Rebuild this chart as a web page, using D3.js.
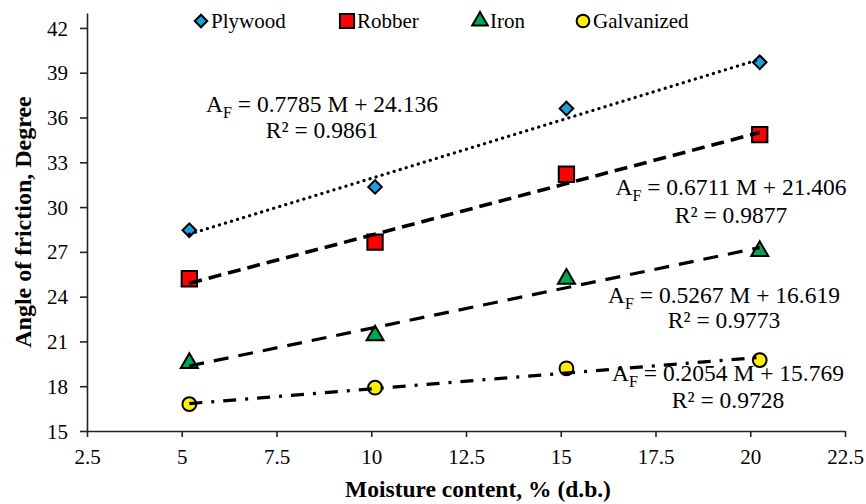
<!DOCTYPE html>
<html>
<head>
<meta charset="utf-8">
<script src="https://cdn.jsdelivr.net/npm/d3@7"></script>
<style>
  html, body { margin: 0; padding: 0; background: #fff; }
  svg { display: block; }
  text { font-family: "Liberation Serif", "Times New Roman", "DejaVu Serif", serif; fill: #000; }
</style>
</head>
<body>
<svg id="chart" width="866" height="504"></svg>
<script>
// Moisture content (% d.b.) at which friction angles were measured
const moisture = [5.2, 10.1, 15.15, 20.25];

// Angle of friction (degree) on each surface
const plywood    = [28.45, 31.35, 36.6, 39.7];
const robber     = [25.2, 27.65, 32.2, 34.85];
const iron       = [19.55, 21.4, 25.2, 27.05];
const galvanized = [16.8, 17.9, 19.2, 19.75];

// Linear fits A_F = slope * M + intercept
const slopes     = [0.7785, 0.6711, 0.5267, 0.2054];
const intercepts = [24.136, 21.406, 16.619, 15.769];
const r2         = ["0.9861", "0.9877", "0.9773", "0.9728"];

const seriesNames = ["Plywood", "Robber", "Iron", "Galvanized"];

// Axis ticks
const xTicks = [2.5, 5, 7.5, 10, 12.5, 15, 17.5, 20, 22.5];
const yTicks = [15, 18, 21, 24, 27, 30, 33, 36, 39, 42];

const FONT = "'Liberation Serif', 'Times New Roman', 'DejaVu Serif', serif";
const svg = d3.select("#chart").attr("font-family", FONT);

const x = d3.scaleLinear().domain([2.5, 22.5]).range([87, 845]);
const y = d3.scaleLinear().domain([15, 43]).range([431, 13]);

// Diamond drawn as a square turned 45 degrees
const styles = [
  { fill: "#1ba1e2", symbol: d3.symbolSquare,   size: 92,  rot: 45, dash: "0.1 6.2",  width: 3.2, cap: "round" },
  { fill: "#ff0000", symbol: d3.symbolSquare,   size: 235, rot: 0,  dash: "13 7",     width: 3.6, cap: "butt" },
  { fill: "#00a651", symbol: d3.symbolTriangle, size: 125, rot: 0,  dash: "15 10",    width: 3.2, cap: "butt" },
  { fill: "#ffef00", symbol: d3.symbolCircle,   size: 150, rot: 0,  dash: "13 9 3 9", width: 3.2, cap: "butt" }
];

const values = [plywood, robber, iron, galvanized];

// Axes
const xAxis = d3.axisBottom(x).tickValues(xTicks).tickSize(6).tickSizeOuter(0)
  .tickFormat(d => String(d));
const yAxis = d3.axisLeft(y).tickValues(yTicks).tickSize(7).tickSizeOuter(0)
  .tickFormat(d => String(d));

const gx = svg.append("g").attr("transform", `translate(0,${y(15)})`).call(xAxis);
const gy = svg.append("g").attr("transform", `translate(${x(2.5)},0)`).call(yAxis);

[gx, gy].forEach(g => {
  g.attr("font-family", FONT).attr("font-size", 21);
  g.select(".domain").attr("stroke", "#222").attr("stroke-width", 1.6);
  g.selectAll(".tick line").attr("stroke", "#222").attr("stroke-width", 1.6);
  g.selectAll(".tick text").attr("fill", "#111");
});
gx.selectAll(".tick text").attr("dy", null).attr("y", 33);
gy.selectAll(".tick text").attr("x", -19).attr("dy", "0.34em");

// Markers
values.forEach((vals, i) => {
  const st = styles[i];
  svg.append("g").selectAll("path")
    .data(vals.map((v, j) => [moisture[j], v]))
    .join("path")
    .attr("d", d3.symbol().type(st.symbol).size(st.size))
    .attr("transform", d => `translate(${x(d[0])},${y(d[1])}) rotate(${st.rot})`)
    .attr("fill", st.fill)
    .attr("stroke", "#000")
    .attr("stroke-width", 2);
});

// Trend lines spanning the measured moisture range
const xMin = d3.min(moisture), xMax = d3.max(moisture);
const line = d3.line().x(d => x(d[0])).y(d => y(d[1]));
slopes.forEach((s, i) => {
  const st = styles[i];
  const pts = [xMin, xMax].map(m => [m, s * m + intercepts[i]]);
  svg.append("path")
    .attr("d", line(pts))
    .attr("fill", "none")
    .attr("stroke", "#000")
    .attr("stroke-width", st.width)
    .attr("stroke-dasharray", st.dash)
    .attr("stroke-linecap", st.cap);
});

// Regression equations (two centred lines each)
const eqPos = [
  { cx: 322, ay: 112, ry: 138 },
  { cx: 731, ay: 195, ry: 223 },
  { cx: 724, ay: 303, ry: 328 },
  { cx: 728, ay: 381, ry: 408 }
];
slopes.forEach((s, i) => {
  const p = eqPos[i];
  const t = svg.append("text").attr("x", p.cx).attr("y", p.ay)
    .attr("text-anchor", "middle").style("font-size", "23.5px");
  t.append("tspan").text("A");
  t.append("tspan").attr("dy", 6).style("font-size", "16px").text("F");
  t.append("tspan").attr("dy", -6).text(` = ${s.toFixed(4)} M + ${intercepts[i].toFixed(3)}`);
  svg.append("text").attr("x", p.cx).attr("y", p.ry)
    .attr("text-anchor", "middle").style("font-size", "23.5px")
    .text(`R² = ${r2[i]}`);
});

// Legend
const legendX = [201, 347, 480, 583];
seriesNames.forEach((name, i) => {
  const st = styles[i];
  const g = svg.append("g").attr("transform", `translate(${legendX[i]},21)`);
  g.append("path")
    .attr("d", d3.symbol().type(st.symbol).size(st.size * 0.85))
    .attr("transform", `rotate(${st.rot})`)
    .attr("fill", st.fill).attr("stroke", "#000").attr("stroke-width", 2);
  g.append("text").attr("x", 10).attr("y", 7).style("font-size", "21px").text(name);
});

// Axis titles
svg.append("text")
  .attr("x", 478).attr("y", 497)
  .attr("text-anchor", "middle")
  .style("font-size", "23.5px").style("font-weight", "bold")
  .text("Moisture content, % (d.b.)");

svg.append("text")
  .attr("transform", "translate(31,222) rotate(-90)")
  .attr("text-anchor", "middle")
  .style("font-size", "24px").style("font-weight", "bold")
  .text("Angle of friction, Degree");
</script>
</body>
</html>
